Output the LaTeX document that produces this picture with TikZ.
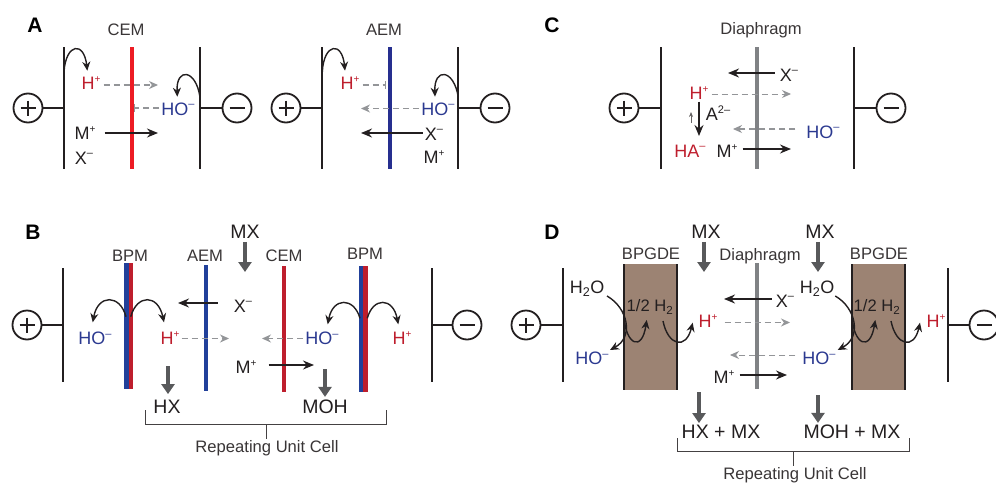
\documentclass[tikz,border=0pt]{standalone}
\usepackage{fontspec}
\setmainfont{Liberation Sans}
\usetikzlibrary{arrows.meta}
\definecolor{ink}{HTML}{231F20}
\definecolor{cemred}{HTML}{ED1C24}
\definecolor{deepred}{HTML}{BE1E2D}
\definecolor{aemblue}{HTML}{262F8F}
\definecolor{bpmblue}{HTML}{21409A}
\definecolor{ionblue}{HTML}{2B3990}
\definecolor{diagray}{HTML}{808285}
\definecolor{dashgray}{HTML}{939598}
\definecolor{dropgray}{HTML}{58595B}
\definecolor{gdebrown}{HTML}{9C8373}
\newcommand{\ionp}{\raisebox{0.40em}{\fontsize{10}{10}\selectfont +}}
\newcommand{\ionm}{\raisebox{0.40em}{\fontsize{11}{11}\selectfont –}}
\begin{document}
\begin{tikzpicture}[x=1pt,y=-1pt]
    \tikzset{
      pics/plusterm/.style args={#1}{code={
        \draw[ink,line width=1.8pt] (0,0) circle (14.5pt);
        \draw[ink,line width=2.4pt] (-7.5,0) -- (7.5,0) (0,-7.5) -- (0,7.5);
        \draw[ink,line width=1.9pt] (14.5,0) -- ++(#1,0);
      },
      }
    }
    \tikzset{
      pics/minusterm/.style args={#1}{code={
        \draw[ink,line width=1.8pt] (0,0) circle (14.5pt);
        \draw[ink,line width=2.6pt] (-7.5,0) -- (7.5,0);
        \draw[ink,line width=1.9pt] (-14.5,0) -- ++(-#1,0);
      },
      }
    }
\tikzset{
  electrode/.style={ink,line width=2pt},
  membrane/.style={line width=4.2pt},
  panel/.style={black,font=\fontsize{21}{21}\selectfont\bfseries,inner sep=1pt},
  memlabel/.style={ink!90,font=\fontsize{16.6}{17}\selectfont,inner sep=1pt},
  ion/.style={ink,font=\fontsize{18}{18}\selectfont,inner sep=2pt},
  feed/.style={ink,font=\fontsize{19.5}{20}\selectfont,inner sep=2pt},
  flow/.style={ink,line width=1.5pt,-{Stealth[length=11pt,width=9pt]}},
  dashflow/.style={dashgray,line width=1.3pt,dash pattern=on 6pt off 4pt,-{Stealth[length=9pt,width=8pt]}},
  dashstop/.style={dashgray,line width=1.3pt,dash pattern=on 6pt off 4pt,-{Bar[width=8pt,line width=1pt]}},
  hop/.style={ink,line width=1.4pt,-{Stealth[length=9pt,width=8pt]}},
  drop/.style={dropgray,line width=3.6pt,-{Triangle[length=10pt,width=13pt]}},
  bracket/.style={ink!85,line width=1pt}
}
\useasboundingbox (0,0) rectangle (996,482);

        %PANEL A
        \node[panel] (lblA) at (35,25) {A};
        \node[memlabel] (cemA) at (126,30) {CEM};
        \draw[electrode] (64,47) -- (64,169);
        \draw[electrode] (200,47) -- (200,169);
        \draw[membrane,cemred] (132,47) -- (132,169);
        \draw (28,108) pic {plusterm={21.5}};
        \draw (237,108) pic {minusterm={22.5}};

        \node[ion,deepred] (hpA) at (91,83) {H\ionp};
        \node[ion,ionblue] (hoA) at (178,109) {HO\ionm};
        \node[ion] (mpA) at (85,133) {M\ionp};
        \node[ion] (xmA) at (84,158) {X\ionm};

        \coordinate (hpAend) at (158,85);
        \coordinate (hoAend) at (134,108);
        \coordinate (mpAend) at (158,133);
        \draw[dashflow,shorten <=1pt] (hpA.east |- hpAend) -- (hpAend);
        \draw[dashstop] (hoA.west |- hoAend) -- (hoAend);
        \draw[flow,shorten <=7pt] (mpA.east |- mpAend) -- (mpAend);

        \coordinate (arcA1) at (64,71.7);
        \coordinate (arcA2) at (87.3,70.7);
        \coordinate (arcA3) at (200,97.3);
        \coordinate (arcA4) at (177.3,96.7);
        \draw[hop] (arcA1) .. controls (66,43) and (84,41) .. (arcA2);
        \draw[hop] (arcA3) .. controls (196,69) and (176,67) .. (arcA4);

        %PANEL A, AEM
        \node[memlabel] (aemA) at (384,30) {AEM};
        \draw[electrode] (322.3,47) -- (322.3,169);
        \draw[electrode] (458.3,47) -- (458.3,169);
        \draw[membrane,aemblue] (390,47) -- (390,169);
        \draw (286,108) pic {plusterm={21.5}};
        \draw (495,108) pic {minusterm={22.5}};

        \node[ion,deepred] (hpAa) at (350,83) {H\ionp};
        \node[ion,ionblue] (hoAa) at (438,109) {HO\ionm};
        \node[ion] (xmAa) at (434,134) {X\ionm};
        \node[ion] (mpAa) at (434,157) {M\ionp};

        \coordinate (hpAaend) at (386,85);
        \coordinate (hoAaend) at (361,108.5);
        \coordinate (xmAaend) at (361,133);
        \draw[dashstop,shorten <=1pt] (hpAa.east |- hpAaend) -- (hpAaend);
        \draw[dashflow] (hoAa.west |- hoAaend) -- (hoAaend);
        \draw[flow] (xmAa.west |- xmAaend) -- (xmAaend);

        \coordinate (arcAa1) at (322.3,71.7);
        \coordinate (arcAa2) at (345,70.7);
        \coordinate (arcAa3) at (458.3,97.3);
        \coordinate (arcAa4) at (435,96.7);
        \draw[hop] (arcAa1) .. controls (324,43) and (342,41) .. (arcAa2);
        \draw[hop] (arcAa3) .. controls (454,69) and (434,67) .. (arcAa4);

        %PANEL C
        \node[panel] (lblC) at (552,25) {C};
        \node[memlabel] (diaC) at (761,30) {Diaphragm};
        \draw[electrode] (660.5,47) -- (660.5,169);
        \draw[electrode] (854,47) -- (854,169);
        \draw[membrane,diagray] (757,47) -- (757,169);
        \draw (624,108) pic {plusterm={21.5}};
        \draw (891,108) pic {minusterm={22.5}};

        \node[ion] (xmC) at (789,75) {X\ionm};
        \node[ion,deepred] (hpC) at (699,93) {H\ionp};
        \node[ion] (acC) at (718,113) {A\raisebox{0.40em}{\fontsize{11}{11}\selectfont 2–}};
        \node[ion,ionblue] (hoC) at (823,132) {HO\ionm};
        \node[ion,deepred] (haC) at (690,151) {HA\ionm};
        \node[ion] (mpC) at (727,151) {M\ionp};

        \coordinate (xmCend) at (728,73);
        \coordinate (hpCend) at (791,94);
        \coordinate (hpCdown) at (699,136);
        \coordinate (hoCend) at (733,129);
        \coordinate (mpCend) at (791,149);
        \coordinate (upCa) at (691,122.5);
        \coordinate (upCb) at (691,112);
        \draw[flow,shorten <=3pt] (xmC.west |- xmCend) -- (xmCend);
        \draw[dashflow,line width=1pt,shorten <=1pt] (hpC.east |- hpCend) -- (hpCend);
        \draw[flow] (hpC.south) -- (hpCdown);
        \draw[ink!70,line width=0.7pt,-{Stealth[length=5pt,width=4pt]}] (upCa) -- (upCb);
        \draw[dashflow,shorten <=9pt] (hoC.west |- hoCend) -- (hoCend);
        \draw[flow,shorten <=3pt] (mpC.east |- mpCend) -- (mpCend);

        %PANEL B
        \node[panel] (lblB) at (33,232) {B};
        \node[memlabel] (bpmB) at (130,256) {BPM};
        \node[memlabel] (aemB) at (205,256) {AEM};
        \node[memlabel] (cemB) at (284,256) {CEM};
        \node[memlabel] (bpmBb) at (365,254) {BPM};
        \draw[electrode] (62.5,268) -- (62.5,382);
        \draw[electrode] (431.5,268) -- (431.5,382);
        \draw[membrane,bpmblue] (126.5,263) -- (126.5,389.3);
        \draw[membrane,deepred] (130.7,263) -- (130.7,389.3);
        \draw[membrane,bpmblue] (206.3,265) -- (206.3,391);
        \draw[membrane,deepred] (284,266) -- (284,391.5);
        \draw[membrane,bpmblue] (361.3,266) -- (361.3,391.7);
        \draw[membrane,deepred] (365.5,266) -- (365.5,391.7);
        \draw (27,325) pic {plusterm={21}};
        \draw (467,325) pic {minusterm={21}};

        \node[feed] (mxB) at (245,232) {MX};
        \node[ion] (xmB) at (243,306) {X\ionm};
        \node[ion,ionblue] (hoB) at (95,338) {HO\ionm};
        \node[ion,deepred] (hpB) at (170,338) {H\ionp};
        \node[ion,ionblue] (hoBb) at (322,338) {HO\ionm};
        \node[ion,deepred] (hpBb) at (402,338) {H\ionp};
        \node[ion] (mpB) at (246,367) {M\ionp};
        \node[feed] (hxB) at (167,407) {HX};
        \node[feed] (mohB) at (325,407) {MOH};
        \node[memlabel] (rucB) at (267,448) {Repeating Unit Cell};

        \coordinate (mxBend) at (245,272);
        \coordinate (xmBend) at (178,303);
        \coordinate (hpBend) at (229,338.5);
        \coordinate (hoBend) at (262,338.5);
        \coordinate (mpBend) at (314,365);
        \coordinate (hxBtop) at (168,366);
        \coordinate (mohBtop) at (325,369);
        \draw[drop,shorten <=1pt] (mxB.south -| mxBend) -- (mxBend);
        \draw[flow,shorten <=14pt] (xmB.west |- xmBend) -- (xmBend);
        \draw[dashflow] (hpB.east |- hpBend) -- (hpBend);
        \draw[dashflow] (hoBb.west |- hoBend) -- (hoBend);
        \draw[flow,shorten <=10pt] (mpB.east |- mpBend) -- (mpBend);
        \draw[drop,shorten >=4pt] (hxBtop) -- (hxB.north -| hxBtop);
        \draw[drop,shorten >=1pt] (mohBtop) -- (mohB.north -| mohBtop);

        \coordinate (arcB1) at (126,316.7);
        \coordinate (arcB2) at (92.7,322.3);
        \coordinate (arcB3) at (130.7,316.7);
        \coordinate (arcB4) at (164,322.3);
        \coordinate (arcB5) at (360,318.3);
        \coordinate (arcB6) at (327.7,324.3);
        \coordinate (arcB7) at (367.3,318.3);
        \coordinate (arcB8) at (398.3,324.3);
        \draw[hop] (arcB1) .. controls (120,294) and (98,294) .. (arcB2);
        \draw[hop] (arcB3) .. controls (137,294) and (158,294) .. (arcB4);
        \draw[hop] (arcB5) .. controls (354,297) and (333,297) .. (arcB6);
        \draw[hop] (arcB7) .. controls (373,297) and (393,297) .. (arcB8);

        \coordinate (brBa) at (145,410);
        \coordinate (brBb) at (386,424);
        \coordinate (brBc) at (386,410);
        \coordinate (brBm) at (266,424);
        \draw[bracket] (brBa) |- (brBb) -- (brBc);
        \draw[bracket] (brBm) -- (rucB.north -| brBm);

        %PANEL D
        \node[panel] (lblD) at (552,232) {D};
        \node[memlabel] (bpgD) at (651,254) {BPGDE};
        \node[memlabel] (diaD) at (760,256) {Diaphragm};
        \node[memlabel] (bpgDb) at (879,254) {BPGDE};
        \draw[electrode] (562.5,268) -- (562.5,382);
        \draw[electrode] (948,268) -- (948,382);
        \fill[gdebrown] (624,264.3) rectangle (676.7,390);
        \fill[gdebrown] (852,264.3) rectangle (904.7,390);
        \draw[electrode] (624,264.3) -- (624,390) (676.7,264.3) -- (676.7,390);
        \draw[electrode] (852,264.3) -- (852,390) (904.7,264.3) -- (904.7,390);
        \draw[membrane,diagray] (757,263) -- (757,389);
        \draw (526,325) pic {plusterm={22}};
        \draw (984,325) pic {minusterm={21.5}};

        \node[feed] (mxD) at (706,232) {MX};
        \node[feed] (mxDb) at (820,232) {MX};
        \node[ion] (wtD) at (587,289) {H\textsubscript{2}O};
        \node[ion] (wtDb) at (817,289) {H\textsubscript{2}O};
        \node[memlabel,ink] (hhD) at (650,307) {1/2 H\textsubscript{2}};
        \node[memlabel,ink] (hhDb) at (877,307) {1/2 H\textsubscript{2}};
        \node[ion,ionblue] (hoD) at (592,358) {HO\ionm};
        \node[ion,ionblue] (hoDb) at (819,358) {HO\ionm};
        \node[ion,deepred] (hpD) at (708,321) {H\ionp};
        \node[ion,deepred] (hpDb) at (936,321) {H\ionp};
        \node[ion] (xmD) at (785,301) {X\ionm};
        \node[ion] (mpD) at (724,377) {M\ionp};
        \node[feed] (hxD) at (721,432) {HX + MX};
        \node[feed] (mohD) at (852,432) {MOH + MX};
        \node[memlabel] (rucD) at (795,475) {Repeating Unit Cell};

        \coordinate (mxDend) at (704,272);
        \coordinate (mxDbend) at (818,272);
        \coordinate (xmDend) at (724,299);
        \coordinate (hpDend) at (790,322.5);
        \coordinate (hoDend) at (730,355);
        \coordinate (mpDend) at (787,375);
        \coordinate (hxDtop) at (699,392);
        \coordinate (mohDtop) at (818,395);
        \draw[drop,shorten <=1pt] (mxD.south -| mxDend) -- (mxDend);
        \draw[drop,shorten <=1pt] (mxDb.south -| mxDbend) -- (mxDbend);
        \draw[flow,shorten <=2pt] (xmD.west |- xmDend) -- (xmDend);
        \draw[dashflow,line width=1pt,shorten <=5pt] (hpD.east |- hpDend) -- (hpDend);
        \draw[dashflow,line width=1pt,shorten <=5pt] (hoDb.west |- hoDend) -- (hoDend);
        \draw[flow,shorten <=3pt] (mpD.east |- mpDend) -- (mpDend);
        \draw[drop] (hxDtop) -- (hxD.north -| hxDtop);
        \draw[drop] (mohDtop) -- (mohD.north -| mohDtop);

        \coordinate (arcD1) at (607,296);
        \coordinate (arcD2) at (610,350);
        \coordinate (arcD3) at (624,317);
        \coordinate (arcD4) at (646.7,320);
        \coordinate (arcD5) at (663,321);
        \coordinate (arcD6) at (692.7,322.7);
        \coordinate (arcD7) at (835.3,296);
        \coordinate (arcD8) at (837.7,350);
        \coordinate (arcD9) at (852,317);
        \coordinate (arcD10) at (875.3,320);
        \coordinate (arcD11) at (891,321);
        \coordinate (arcD12) at (920,322.7);
        \draw[hop] (arcD1) .. controls (628,308) and (634,337) .. (arcD2);
        \draw[hop] (arcD3) .. controls (626,345) and (642,352) .. (arcD4);
        \draw[hop] (arcD5) .. controls (668,346) and (686,350) .. (arcD6);
        \draw[hop] (arcD7) .. controls (856,308) and (862,337) .. (arcD8);
        \draw[hop] (arcD9) .. controls (854,345) and (870,352) .. (arcD10);
        \draw[hop] (arcD11) .. controls (896,346) and (914,350) .. (arcD12);

        \coordinate (brDa) at (677,438);
        \coordinate (brDb) at (909,451);
        \coordinate (brDc) at (909,438);
        \coordinate (brDm) at (793,451);
        \draw[bracket] (brDa) |- (brDb) -- (brDc);
        \draw[bracket] (brDm) -- (rucD.north -| brDm);
    \end{tikzpicture}
\end{document}
